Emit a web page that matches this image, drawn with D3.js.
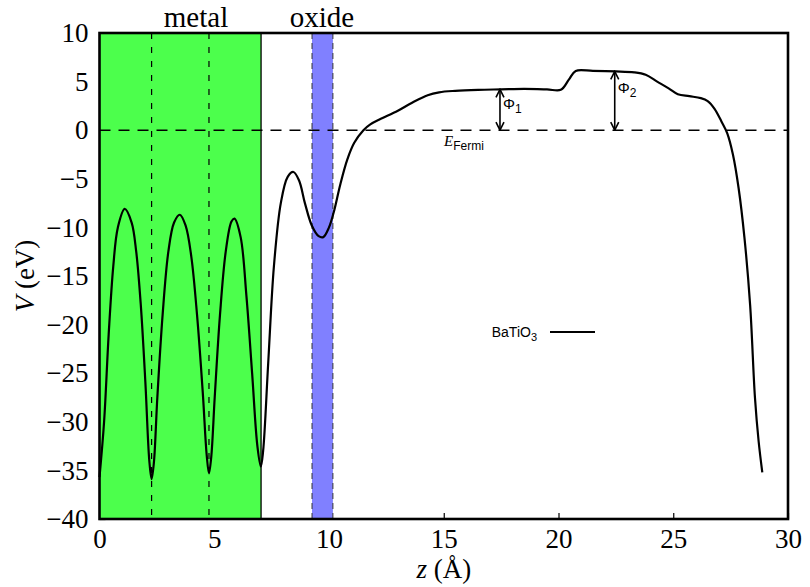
<!DOCTYPE html>
<html>
<head>
<meta charset="utf-8">
<script src="https://cdn.jsdelivr.net/npm/d3@7"></script>
<style>
  html, body { margin: 0; padding: 0; background: #fff; }
  svg { display: block; }
</style>
</head>
<body>
<svg id="chart" width="810" height="587"></svg>
<script>
// ---- data ----
const zValues = [0, 0.2, 0.4, 0.6, 0.8, 1.1, 1.4, 1.6, 1.8, 2.0, 2.17, 2.27, 2.37, 2.52, 2.75, 3.0, 3.25, 3.5, 3.75, 4.0, 4.25, 4.5, 4.67, 4.77, 4.87, 5.02, 5.25, 5.5, 5.75, 5.88, 6.15, 6.4, 6.65, 6.88, 7.03, 7.13, 7.35, 7.6, 7.9, 8.2, 8.45, 8.7, 8.95, 9.25, 9.55, 9.75, 10.0, 10.2, 10.5, 10.8, 11.1, 11.5, 11.8, 12.2, 13.0, 13.6, 14.3, 14.8, 15.5, 16.5, 17.5, 18.5, 19.5, 20.1, 20.45, 20.75, 21.5, 22.5, 23.3, 23.8, 24.3, 24.8, 25.2, 25.7, 26.2, 26.5, 26.8, 27.1, 27.35, 27.6, 27.85, 28.1, 28.35, 28.56, 28.72, 28.88];
const vValues = [-35.7, -30, -21, -14, -10, -8.1, -9.5, -12.5, -18, -26, -34.0, -35.9, -34.2, -27.5, -19, -12.5, -9.5, -8.7, -9.8, -13, -19, -27, -33.4, -35.3, -33.6, -27.5, -19, -12.5, -9.4, -9.1, -11, -17, -25, -32.5, -34.6, -33, -24, -14, -7.5, -4.8, -4.3, -5.2, -7.5, -9.8, -10.9, -11.0, -10.0, -8.5, -5.5, -3.0, -1.3, 0.0, 0.6, 1.1, 2.0, 2.8, 3.6, 3.9, 4.05, 4.15, 4.2, 4.25, 4.2, 4.15, 5.2, 6.1, 6.1, 6.05, 5.95, 5.7, 5.0, 4.3, 3.7, 3.5, 3.3, 3.0, 2.2, 0.9, -0.3, -2.5, -6, -11, -18, -27.5, -32, -35.2];

const xTicks = [0, 5, 10, 15, 20, 25, 30];
const yTicks = [10, 5, 0, -5, -10, -15, -20, -25, -30, -35, -40];
const metalBand = [0, 7.04];
const oxideBand = [9.26, 10.17];
const atomLines = [2.27, 4.77];
const phiZ = [17.45, 22.45];
const phiV = [4.2, 6.05];
const phiNames = ["1", "2"];
const seriesName = "BaTiO";

// ---- layout ----
const svg = d3.select("#chart");
const x = d3.scaleLinear().domain([0, 30]).range([99.5, 788]);
const y = d3.scaleLinear().domain([-40, 10]).range([519, 33]);
const serif = "'Liberation Serif', 'Times New Roman', serif";
const sans = "'Liberation Sans', Arial, sans-serif";

// ticks (beneath fills)
const xAxis = d3.axisBottom(x).tickValues(xTicks).tickSizeInner(-6).tickSizeOuter(0).tickPadding(10).tickFormat(d3.format("d"));
const gx = svg.append("g").attr("transform", `translate(0,${y(-40)})`).call(xAxis);
gx.select(".domain").remove();
gx.selectAll("line").attr("stroke", "#000").attr("stroke-width", 1.2);
gx.selectAll("text").attr("font-family", serif).attr("font-size", 27).attr("fill", "#000")
  .attr("dy", "0.71em");

const yAxis = d3.axisLeft(y).tickValues(yTicks).tickSizeInner(-6).tickSizeOuter(0).tickPadding(11)
  .tickFormat(d => d < 0 ? "\u2212" + Math.abs(d) : d);
const gy = svg.append("g").attr("transform", `translate(${x(0)},0)`).call(yAxis);
gy.select(".domain").remove();
gy.selectAll("line").attr("stroke", "#000").attr("stroke-width", 1.2);
gy.selectAll("text").attr("font-family", serif).attr("font-size", 27).attr("fill", "#000");

// bands
svg.append("rect").attr("x", x(metalBand[0])).attr("y", y(10))
  .attr("width", x(metalBand[1]) - x(metalBand[0])).attr("height", y(-40) - y(10))
  .attr("fill", "#4cff4c");
svg.append("line").attr("x1", x(metalBand[1])).attr("x2", x(metalBand[1]))
  .attr("y1", y(10)).attr("y2", y(-40)).attr("stroke", "#000").attr("stroke-width", 1.3);

svg.append("rect").attr("x", x(oxideBand[0])).attr("y", y(10))
  .attr("width", x(oxideBand[1]) - x(oxideBand[0])).attr("height", y(-40) - y(10))
  .attr("fill", "#8080ff");
oxideBand.forEach(b => {
  svg.append("line").attr("x1", x(b)).attr("x2", x(b)).attr("y1", y(10)).attr("y2", y(-40))
    .attr("stroke", "#333").attr("stroke-width", 1).attr("stroke-dasharray", "6,4");
});

// atom dashed lines
atomLines.forEach(a => {
  svg.append("line").attr("x1", x(a)).attr("x2", x(a)).attr("y1", y(10)).attr("y2", y(-40))
    .attr("stroke", "#000").attr("stroke-width", 1.2).attr("stroke-dasharray", "6,8");
});

// Fermi line
svg.append("line").attr("x1", x(0)).attr("x2", x(30)).attr("y1", y(0)).attr("y2", y(0))
  .attr("stroke", "#000").attr("stroke-width", 1.6).attr("stroke-dasharray", "11,8");

// curve
const pts = zValues.map((z, i) => [z, vValues[i]]);
const line = d3.line().x(d => x(d[0])).y(d => y(d[1])).curve(d3.curveCatmullRom.alpha(0.5));
svg.append("path").datum(pts).attr("d", line).attr("fill", "none")
  .attr("stroke", "#000").attr("stroke-width", 2.2).attr("stroke-linejoin", "round");

// arrows
const defs = svg.append("defs");
defs.append("marker").attr("id", "ah").attr("viewBox", "0 0 10 10").attr("refX", 9).attr("refY", 5)
  .attr("markerWidth", 10).attr("markerHeight", 10).attr("markerUnits", "userSpaceOnUse")
  .attr("orient", "auto-start-reverse")
  .append("path").attr("d", "M1,1 L9,5 L1,9").attr("fill", "none").attr("stroke", "#000").attr("stroke-width", 1.6);

phiZ.forEach((pz, i) => {
  svg.append("line").attr("x1", x(pz)).attr("x2", x(pz)).attr("y1", y(0)).attr("y2", y(phiV[i]))
    .attr("stroke", "#000").attr("stroke-width", 1.6)
    .attr("marker-start", "url(#ah)").attr("marker-end", "url(#ah)");
  const t = svg.append("text").attr("x", x(pz) + 3).attr("y", y(phiV[i] * 0.5) - 4 + (i === 0 ? 3 : -4))
    .attr("font-family", sans).attr("font-size", 15).attr("fill", "#000");
  t.append("tspan").text("\u03A6");
  t.append("tspan").attr("font-size", 12).attr("dy", 4).text(phiNames[i]);
});

// E_Fermi label
const ef = svg.append("text").attr("x", 444).attr("y", y(0) + 16).attr("fill", "#000");
ef.append("tspan").attr("font-family", serif).attr("font-style", "italic").attr("font-size", 15).text("E");
ef.append("tspan").attr("font-family", sans).attr("font-size", 12).attr("dy", 4).text("Fermi");

// legend
const lg = svg.append("text").attr("x", 537).attr("y", 337).attr("text-anchor", "end")
  .attr("font-family", sans).attr("font-size", 14).attr("fill", "#000");
lg.append("tspan").text(seriesName);
lg.append("tspan").attr("font-size", 11).attr("dy", 4).text("3");
svg.append("line").attr("x1", 550).attr("x2", 595).attr("y1", 332).attr("y2", 332)
  .attr("stroke", "#000").attr("stroke-width", 2);

// frame
svg.append("rect").attr("x", x(0)).attr("y", y(10)).attr("width", x(30) - x(0)).attr("height", y(-40) - y(10))
  .attr("fill", "none").attr("stroke", "#000").attr("stroke-width", 2.6);

// region labels
svg.append("text").attr("x", 196).attr("y", 27).attr("text-anchor", "middle")
  .attr("font-family", serif).attr("font-size", 29).attr("fill", "#000").text("metal");
svg.append("text").attr("x", 322).attr("y", 27).attr("text-anchor", "middle")
  .attr("font-family", serif).attr("font-size", 29).attr("fill", "#000").text("oxide");

// axis titles
const yt = svg.append("text").attr("transform", `translate(34,${(y(10) + y(-40)) / 2}) rotate(-90)`)
  .attr("text-anchor", "middle").attr("font-family", serif).attr("font-size", 27).attr("fill", "#000");
yt.append("tspan").attr("font-style", "italic").text("V");
yt.append("tspan").text(" (eV)");

const xt = svg.append("text").attr("x", x(15)).attr("y", 578).attr("text-anchor", "middle")
  .attr("font-family", serif).attr("font-size", 27).attr("fill", "#000");
xt.append("tspan").attr("font-style", "italic").text("z");
xt.append("tspan").text(" (\u00C5)");
</script>
</body>
</html>
